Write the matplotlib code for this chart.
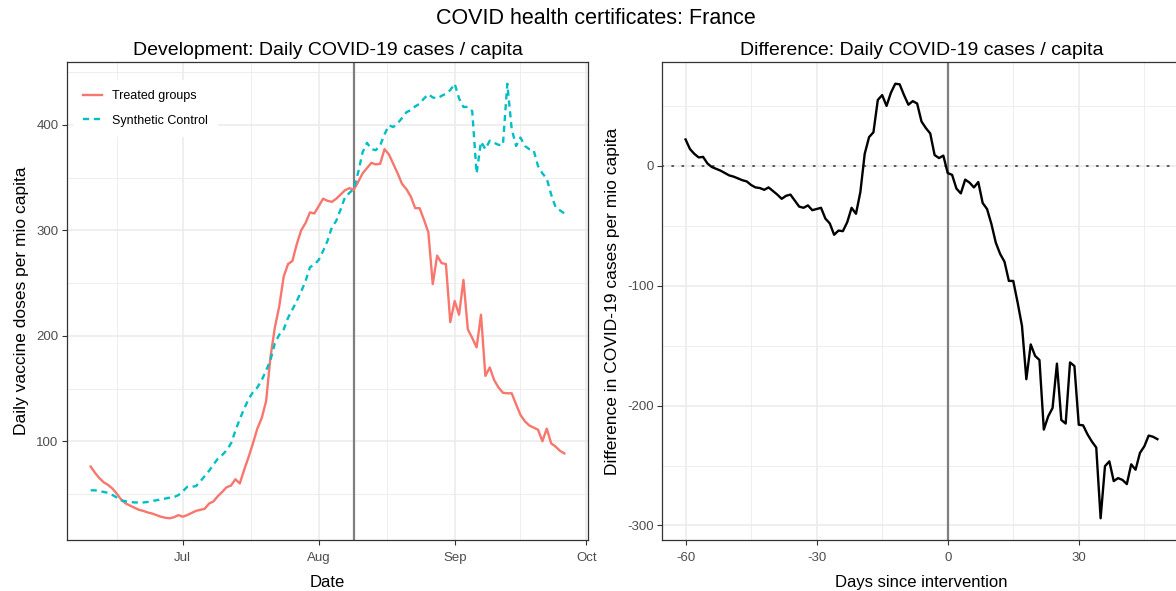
import numpy as np
import pandas as pd
import matplotlib
matplotlib.use("Agg")
import matplotlib.pyplot as plt

plt.rcParams['font.family'] = ['Liberation Sans', 'DejaVu Sans']
plt.rcParams['axes.unicode_minus'] = False

# ---------------- data ----------------
start_date = "2021-06-10"
intervention_date = "2021-08-09"
days = list(range(-60, 49))  # days since intervention

treated = [76, 70, 65, 61, 58.5, 55, 50, 44.5, 41, 39,
           37, 35, 34, 32.5, 31.5, 30, 28.5, 27.5, 27, 28,
           30, 28.5, 30, 32, 34, 35, 36, 41, 43, 48,
           52, 56.5, 58, 64, 60, 73, 85, 98, 112, 122,
           138, 180, 208, 228, 256, 268, 271, 287, 300, 307,
           317, 316, 323, 330, 328, 327, 330, 334, 338, 340,
           338.5, 346, 354, 359, 364, 362.5, 363, 377, 372, 363,
           354, 344, 339, 332, 321, 321, 310, 298, 249, 276,
           269, 268, 213, 233, 220, 253, 206, 198, 189, 220,
           162, 170, 158, 151, 146, 145.5, 145.5, 135, 125, 119,
           115, 113, 111, 100, 112, 98, 95, 91, 88.5]

synthetic = [53.5, 53.5, 52.5, 52, 51, 49, 46.5, 44, 43, 42.5,
             42, 42, 42, 42.5, 43.5, 44, 45, 45.7, 46.5, 47,
             49, 52.5, 56.8, 56.8, 57.5, 62, 67, 72, 78, 83.5,
             87, 91.5, 98, 110, 121, 131, 140, 146.5, 151, 158,
             167, 177, 193, 201, 206, 217, 225, 233, 242, 252,
             265, 267.5, 272, 280.5, 290, 303, 309, 320, 331.5, 335.5,
             339.3, 355, 374, 383, 377, 376, 380.5, 391, 399.5, 398,
             401.5, 406.5, 412, 414, 417.5, 420, 425, 429, 426, 425,
             427.5, 429.5, 433, 439, 425, 417, 417, 413, 354, 384,
             377, 385, 383, 381, 381, 439, 396, 380, 388, 380,
             377, 376, 361, 354, 349, 334, 322, 319, 316]

difference = [22, 14, 10, 7, 7.5, 2, -1, -2.5, -4, -6,
              -8, -9, -10.5, -12, -13, -16, -18, -18.5, -20, -18,
              -21, -24, -27.5, -25, -24, -29, -34, -35, -33, -37,
              -36, -35, -44, -48, -57.5, -54, -54.5, -47, -35, -40,
              -22, 10, 24, 28, 55, 59, 50, 61, 68.5, 68,
              59, 51, 54, 52, 37, 31.5, 27, 9, 6.5, 8.5,
              -6, -7.5, -19, -23, -11.5, -14, -18, -13.5, -31, -36,
              -48.5, -64, -73.5, -80, -96, -96, -114, -133.5, -178, -149,
              -158.5, -162, -220, -209, -202, -165, -212, -215, -164, -167,
              -216, -216.5, -224, -230, -235, -294, -250.5, -246.5, -263, -260.5,
              -262, -265.5, -249, -253.5, -239.5, -234, -225, -226, -228]

month_ticks = ["2021-07-01", "2021-08-01", "2021-09-01", "2021-10-01"]
month_labels = ["Jul", "Aug", "Sep", "Oct"]
left_yticks = [100, 200, 300, 400]
right_xticks = [-60, -30, 0, 30]
right_yticks = [-300, -200, -100, 0]

dates = pd.date_range(start_date, periods=len(treated), freq="D")

# ---------------- style helpers ----------------
GRID = "#EBEBEB"
BORDER = "#333333"
TICKTXT = "#4D4D4D"

def style_axes(ax):
    ax.set_facecolor("white")
    for s in ax.spines.values():
        s.set_color(BORDER)
        s.set_linewidth(0.9)
    ax.grid(True, which="major", color=GRID, linewidth=1.1, zorder=0)
    ax.grid(True, which="minor", color=GRID, linewidth=0.6, zorder=0)
    ax.set_axisbelow(True)
    ax.tick_params(which="major", length=3.5, width=0.8, color=BORDER,
                   labelsize=9.5, labelcolor=TICKTXT)
    ax.tick_params(axis="x", which="major", pad=5)
    ax.tick_params(axis="y", which="major", pad=2.5)
    ax.tick_params(which="minor", length=0)

fig = plt.figure(figsize=(11.76, 5.91), dpi=100)
fig.patch.set_facecolor("white")

# ---------------- left panel ----------------
ax1 = fig.add_axes([67/1176, 1-540/591, 521/1176, 478/591])
style_axes(ax1)
ax1.plot(dates, treated, color="#F8766D", lw=1.7, label="Treated groups", zorder=3)
ax1.plot(dates, synthetic, color="#00BFC4", lw=1.7, ls=(0, (2.6, 2.0)),
         label="Synthetic Control", zorder=3)
ax1.axvline(pd.Timestamp(intervention_date), color="#7F7F7F", lw=1.6, zorder=2)

mt = pd.to_datetime(month_ticks)
ax1.set_xticks(mt)
ax1.set_xticklabels(month_labels)
mid = [pd.Timestamp("2021-06-01") + (pd.Timestamp("2021-07-01") - pd.Timestamp("2021-06-01")) / 2]
for a, b in zip(mt[:-1], mt[1:]):
    mid.append(a + (b - a) / 2)
ax1.set_xticks(mid, minor=True)

span = (dates[-1] - dates[0]) * 0.05
ax1.set_xlim(dates[0] - span, dates[-1] + span)
allv = treated + synthetic
rng = max(allv) - min(allv)
ax1.set_ylim(min(allv) - 0.05 * rng, max(allv) + 0.05 * rng)
ax1.set_yticks(left_yticks)
ax1.set_yticks([50, 150, 250, 350, 450], minor=True)

ax1.set_xlabel("Date", fontsize=12, labelpad=8)
ax1.set_ylabel("Daily vaccine doses per mio capita", fontsize=12.5, labelpad=5)
ax1.set_title("Development: Daily COVID-19 cases / capita", fontsize=14, pad=5)

leg = ax1.legend(loc="upper left", bbox_to_anchor=(0.0, 0.975), frameon=True,
                 fontsize=9, handlelength=1.5, handletextpad=0.8,
                 labelspacing=1.0, borderpad=0.8)
leg.get_frame().set_facecolor("white")
leg.get_frame().set_edgecolor("none")
leg.get_frame().set_alpha(1)
leg.get_frame().set_boxstyle("square", pad=0)

# ---------------- right panel ----------------
ax2 = fig.add_axes([662/1176, 1-540/591, 519/1176, 478/591])
style_axes(ax2)
ax2.plot(days, difference, color="black", lw=1.7, zorder=3)
ax2.axhline(0, color="#555555", lw=1.4, ls=(0, (0.6, 4.6)),
            dash_capstyle="round", zorder=2)
ax2.axvline(0, color="#7F7F7F", lw=1.6, zorder=2)

dspan = (days[-1] - days[0]) * 0.05
ax2.set_xlim(days[0] - dspan, days[-1] + dspan)
drng = max(difference) - min(difference)
ax2.set_ylim(min(difference) - 0.05 * drng, max(difference) + 0.05 * drng)
ax2.set_xticks(right_xticks)
ax2.set_xticks([-45, -15, 15, 45], minor=True)
ax2.set_yticks(right_yticks)
ax2.set_yticks([-250, -150, -50, 50], minor=True)

ax2.set_xlabel("Days since intervention", fontsize=12, labelpad=8)
ax2.set_ylabel("Difference in COVID-19 cases per mio capita", fontsize=12.5, labelpad=5)
ax2.set_title("Difference: Daily COVID-19 cases / capita", fontsize=14, pad=5)

fig.text(0.507, 1 - 18/591, "COVID health certificates: France",
         fontsize=15.5, ha="center", va="center")

fig.savefig("out.png", dpi=100, facecolor="white")
